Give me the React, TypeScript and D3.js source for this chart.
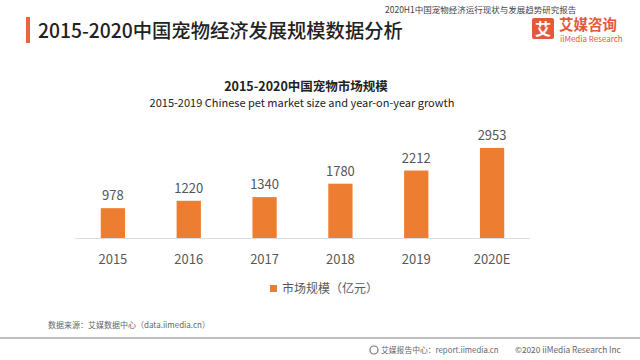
import React from "react";
import * as d3 from "d3";

const categories = ["2015", "2016", "2017", "2018", "2019", "2020E"];
const marketSize = [978, 1220, 1340, 1780, 2212, 2953];
const seriesName = "市场规模（亿元）";
const mainTitle = "2015-2020中国宠物经济发展规模数据分析";
const reportTitle = "2020H1中国宠物经济运行现状与发展趋势研究报告";
const chartTitle = "2015-2020中国宠物市场规模";
const chartSubtitle = "2015-2019 Chinese pet market size and year-on-year growth";
const sourceText = "数据来源：艾媒数据中心（data.iimedia.cn）";
const footerLeft = "艾媒报告中心：report.iimedia.cn";
const footerRight = "©2020  iiMedia Research  Inc";

const W = 640;
const H = 360;
const FONT = "'Noto Sans CJK SC', 'Noto Sans', sans-serif";
const ORANGE = "#ED7D31";
const RED = "#E4583B";

export default function App() {
  const x = d3.scaleBand<string>().domain(categories).range([75, 530]).paddingInner(0.68).paddingOuter(0.34);
  const y = d3.scaleLinear().domain([0, 3000]).range([238, 146.5]);
  const bw = x.bandwidth();

  return (
    <svg width={W} height={H} style={{ position: "absolute", left: 0, top: 0, background: "#fff" }} fontFamily={FONT}>
      <rect x={0} y={0} width={W} height={H} fill="#fff" />
      {/* header */}
      <rect x={26} y={17} width={4} height={26} fill="#E8673F" />
      <text x={38} y={38} fontSize={19.3} fontWeight={500} fill="#222">{mainTitle}</text>
      <text x={385} y={13} fontSize={8.5} fill="#444">{reportTitle}</text>
      {/* logo */}
      <rect x={532} y={18} width={22} height={21} rx={2} fill={RED} />
      <text x={543} y={35} fontSize={16} fontWeight={700} fill="#fff" textAnchor="middle">艾</text>
      <text x={559} y={30} fontSize={14.5} fontWeight={700} fill={RED}>艾媒咨询</text>
      <text x={560} y={41.5} fontSize={8} fill={RED}>iiMedia Research</text>

      {/* chart titles */}
      <text x={306} y={91} fontSize={12.5} fontWeight={700} fill="#222" textAnchor="middle">{chartTitle}</text>
      <text x={302} y={107} fontSize={11} fill="#222" textAnchor="middle">{chartSubtitle}</text>

      {/* bars */}
      {categories.map((c, i) => (
        <g key={c}>
          <rect x={x(c)!} y={y(marketSize[i])} width={bw} height={y(0) - y(marketSize[i])} fill={ORANGE} />
          <text x={x(c)! + bw / 2} y={y(marketSize[i]) - 8} fontSize={13} fill="#555" textAnchor="middle">{marketSize[i]}</text>
          <text x={x(c)! + bw / 2} y={264} fontSize={13} fill="#595959" textAnchor="middle">{c}</text>
        </g>
      ))}
      <line x1={75} x2={530} y1={y(0) + 0.5} y2={y(0) + 0.5} stroke="#ddd" strokeWidth={1} />

      {/* legend */}
      <rect x={270} y={285} width={7} height={7} fill={ORANGE} />
      <text x={282} y={292.5} fontSize={12} fill="#595959">{seriesName}</text>

      {/* footer */}
      <text x={48} y={328} fontSize={8} fill="#666">{sourceText}</text>
      <line x1={0} x2={640} y1={338} y2={338} stroke="#aaa" strokeWidth={1.5} />
      <circle cx={374} cy={350} r={4} fill="none" stroke="#777" strokeWidth={1.2} />
      <text x={381} y={353} fontSize={7.8} fill="#666">{footerLeft}</text>
      <text x={515} y={353} fontSize={8.3} fill="#666">{footerRight}</text>
    </svg>
  );
}
